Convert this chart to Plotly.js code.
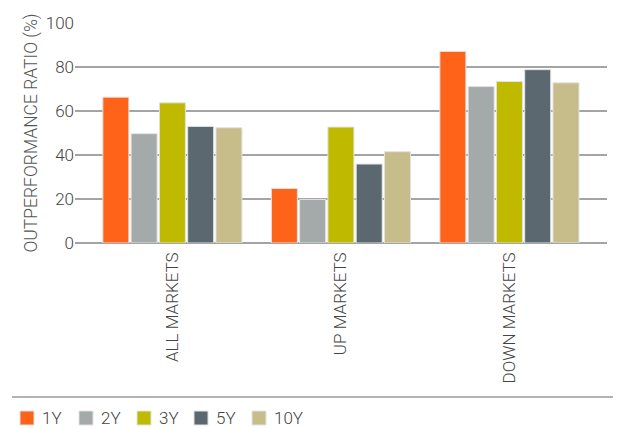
<!DOCTYPE html>
<html>
<head>
<meta charset="utf-8">
<script src="https://cdn.plot.ly/plotly-3.0.1.min.js"></script>
<style>
html,body{margin:0;padding:0;background:#fff;}
#chart{width:625px;height:429px;}
</style>
</head>
<body>
<div id="chart"></div>
<script>
var categories = ["ALL MARKETS", "UP MARKETS", "DOWN MARKETS"];
var seriesNames = ["1Y", "2Y", "3Y", "5Y", "10Y"];
var values1Y = [66.3, 24.8, 87.1];
var values2Y = [49.7, 19.8, 71.1];
var values3Y = [63.7, 52.7, 73.4];
var values5Y = [53.0, 35.9, 78.8];
var values10Y = [52.4, 41.5, 72.8];
var yTicks = [0, 20, 40, 60, 80, 100];

var seriesValues = [values1Y, values2Y, values3Y, values5Y, values10Y];
var colors = ["#FF6319", "#A4A9A9", "#BFBA00", "#5C6870", "#C6BD8A"];
var FONT = "Roboto, 'Liberation Sans Narrow', sans-serif";

var traces = seriesNames.map(function (name, i) {
  return {
    type: "bar",
    name: name,
    x: categories,
    y: seriesValues[i],
    marker: {color: colors[i], line: {color: "#e2e2e2", width: 1}},
    hoverinfo: "skip",
    showlegend: false
  };
});

var W = 625, H = 429;
var mL = 75, mR = 18, mT = 23, mB = 186;
var pw = W - mL - mR, ph = H - mT - mB;
function px2x(px) { return (px - mL) / pw; }
function py2y(py) { return (H - mB - py) / ph; }

var shapes = [{
  type: "line", xref: "paper", yref: "paper",
  x0: px2x(12), x1: px2x(613), y0: py2y(397), y1: py2y(397),
  line: {color: "#9a9a9a", width: 1.5}
}];
var annotations = [];
var legendLeft = [20, 79, 137, 194, 252];
seriesNames.forEach(function (name, i) {
  var l = legendLeft[i];
  shapes.push({
    type: "rect", xref: "paper", yref: "paper",
    x0: px2x(l), x1: px2x(l + 14), y0: py2y(411), y1: py2y(425),
    fillcolor: colors[i], line: {color: "#e2e2e2", width: 1}
  });
  annotations.push({
    xref: "paper", yref: "paper", x: px2x(l + 20), y: py2y(418),
    xanchor: "left", yanchor: "middle", showarrow: false,
    text: name, font: {family: FONT, size: 17, color: "#444", weight: 300}
  });
});

var layout = {
  width: W, height: H,
  margin: {l: mL, r: mR, t: mT, b: mB, pad: 0},
  paper_bgcolor: "#fff", plot_bgcolor: "#fff",
  barmode: "group", bargap: 0.161, bargroupgap: 0.08,
  showlegend: false,
  font: {family: FONT, size: 17, color: "#444", weight: 300},
  xaxis: {
    type: "category",
    range: [-0.578, 2.579],
    tickangle: -90,
    showgrid: false, zeroline: false,
    showline: false,
    ticks: "", ticklabelstandoff: 5,
    tickfont: {family: FONT, size: 17, color: "#444", weight: 300},
    fixedrange: true, automargin: false
  },
  yaxis: {
    range: [0, 100],
    tickvals: yTicks,
    ticktext: yTicks.map(String),
    showgrid: true, gridcolor: "#a4a4a4", gridwidth: 1.5,
    zeroline: true, zerolinecolor: "#a4a4a4", zerolinewidth: 1.5,
    showline: false, ticks: "",
    tickfont: {family: FONT, size: 17, color: "#444", weight: 300},
    title: {text: "OUTPERFORMANCE RATIO (%)", standoff: 3,
            font: {family: FONT, size: 17.5, color: "#555", weight: 300}},
    fixedrange: true, automargin: false
  },
  shapes: shapes,
  annotations: annotations
};

Plotly.newPlot("chart", traces, layout, {displayModeBar: false, staticPlot: true});
</script>
</body>
</html>
